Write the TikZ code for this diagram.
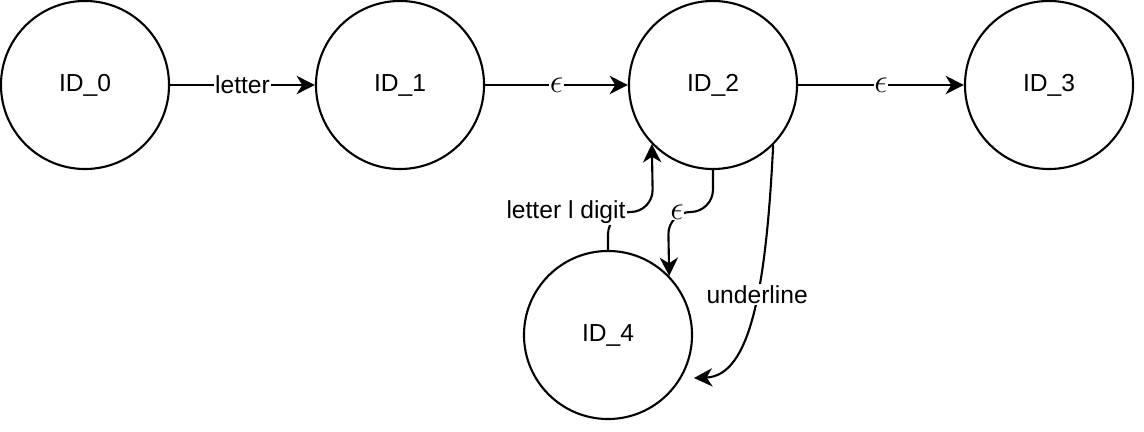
\RequirePackage{fix-cm}
\documentclass[tikz,border=0pt]{standalone}
\usepackage{fontspec}
\setmainfont{Liberation Sans}
\usetikzlibrary{arrows.meta,calc}
\tikzset{
	state/.style={draw, circle, line width=1.5pt, minimum size=4.2cm, inner sep=0pt, font=\fontsize{17.5}{21}\selectfont},
	edge/.style={line width=1.5pt, -{Stealth[length=13pt,width=13pt,inset=4pt]}},
	lbl/.style={fill=white, inner sep=1pt, font=\fontsize{17.5}{21}\selectfont},
	epslbl/.style={lbl, inner sep=0.5pt, font=\fontsize{24}{28}\selectfont}
}

\begin{document}
\begin{tikzpicture}[x=0.025cm, y=-0.025cm]
			%%%%% START %%%%%
			\useasboundingbox (0, 0) rectangle (1144, 432);
			
			\node[state] (ID0) at (85, 85) {ID\_0};
			\node[state] (ID1) at (400, 85) {ID\_1};
			\node[state] (ID2) at (713, 85) {ID\_2};
			\node[state] (ID3) at (1049, 85) {ID\_3};
			\node[state] (ID4) at (608, 335) {ID\_4};
			
			\draw[edge] (ID0) -- node[lbl] {letter} (ID1);
			\draw[edge] (ID1) -- node[epslbl] {$\epsilon$} (ID2);
			\draw[edge] (ID2) -- node[epslbl] {$\epsilon$} (ID3);
			
			\coordinate (up4) at (653, 212);
			\draw[edge, rounded corners=16] (ID4.north) |- (up4) -- (ID2.-136);
			\node[lbl] (back) at (566, 212) {letter l digit};
			
			\coordinate (down4) at (668, 212);
			\draw[edge, rounded corners=16] (ID2.south) |- (down4) -- (ID4.44);
			\node[epslbl] (eps4) at (677, 212) {$\epsilon$};
			
			\coordinate (u4) at (694, 378);
			\draw[edge] (ID2.-45) .. controls (766, 290) and (750, 376) .. node[lbl, pos=0.42] {underline} (u4);
			
			%%%%% END %%%%%
\end{tikzpicture}
\end{document}
